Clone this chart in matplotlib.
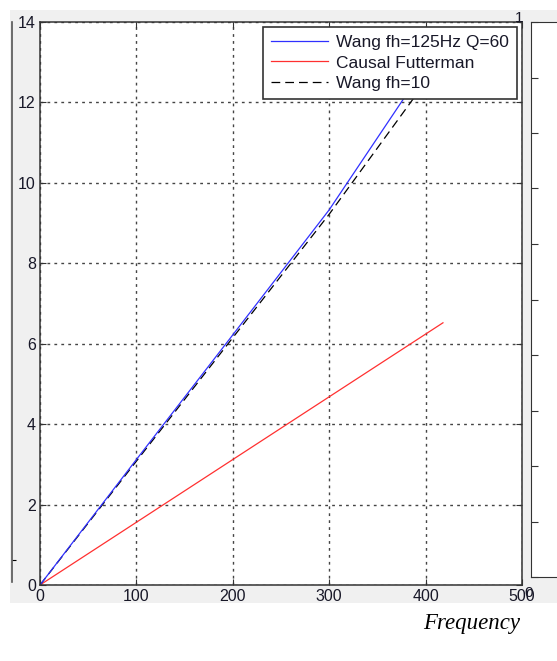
import numpy as np
import matplotlib
matplotlib.use('Agg')
import matplotlib.pyplot as plt
from matplotlib.patches import Rectangle

#data
freq_wang = [0, 100, 200, 300, 390]
att_wang = [0, 3.12, 6.22, 9.33, 12.55]
freq_fh10 = [0, 100, 200, 300, 392]
att_fh10 = [0, 3.08, 6.15, 9.22, 12.25]
freq_futt = [0, 100, 200, 300, 418]
att_futt = [0, 1.56, 3.12, 4.68, 6.52]
xticks = [0, 100, 200, 300, 400, 500]
yticks = [0, 2, 4, 6, 8, 10, 12, 14]
labels = ['Wang fh=125Hz Q=60', 'Causal Futterman', 'Wang fh=10']

plt.rcParams['font.family'] = ['Liberation Sans', 'DejaVu Sans']
W, H = 557, 661
txtcol = '#181828'
fig = plt.figure(figsize=(W/100, H/100), dpi=100, facecolor='white')

#gray matlab figure background
fig.patches.append(Rectangle((10/W, 1-603/H), 1, 593/H, transform=fig.transFigure,
                             facecolor='#f0f0f0', edgecolor='none', zorder=-5))

#partial neighbour panel on the left
axl = fig.add_axes([-0.5, 1-582/H, 0.5+12/W, 560/H])
axl.set_facecolor('none')
for s in ['left', 'top', 'bottom']:
    axl.spines[s].set_visible(False)
axl.spines['right'].set_color('#555555')
axl.spines['right'].set_linewidth(1.2)
axl.set_xticks([])
axl.yaxis.tick_right()
axl.set_ylim(0, 1)
axl.set_yticks([0.04])
axl.tick_params(axis='y', direction='out', length=3, labelright=False)
axl.plot([1, 1], [0.947, 0.947], 'r.', ms=2, clip_on=False)
axl.plot([1, 1], [0.84, 0.84], 'b.', ms=2, clip_on=False)

#partial neighbour panel on the right
axr = fig.add_axes([531/W, 1-577/H, 0.4, 555/H])
axr.set_facecolor('white')
axr.set_ylim(0, 1)
axr.set_yticks(np.arange(0, 1.01, 0.1))
axr.set_yticklabels([])
axr.set_xticks([])
axr.tick_params(axis='y', direction='in', length=5, color='#333333')
for s in axr.spines.values():
    s.set_color('#333333')

#main axes
ax = fig.add_axes([40/W, 1-585/H, 482/W, 563/H])
ax.set_facecolor('white')
ax.plot(freq_futt, att_futt, color='#ff3030', lw=0.9, label=labels[1])
ax.plot(freq_fh10, att_fh10, color='black', lw=0.9, dashes=(7, 4), label=labels[2])
ax.plot(freq_wang, att_wang, color='#3030ff', lw=0.9, label=labels[0])

ax.set_xlim(0, 500)
ax.set_ylim(0, 14)
ax.set_xticks(xticks)
ax.set_yticks(yticks)
ax.tick_params(direction='in', length=4, labelsize=11.5, top=True, right=True,
               color='#333333', labelcolor=txtcol, pad=3)
ax.grid(True, linestyle=(0, (2, 3)), color='#444444', lw=1)
for s in ax.spines.values():
    s.set_color('#333333')
    s.set_linewidth(1.1)

h, l = ax.get_legend_handles_labels()
order = [2, 0, 1]
leg = ax.legend([h[i] for i in order], [l[i] for i in order], loc='upper right',
                prop={'size': 12.5}, fancybox=False, framealpha=1, edgecolor='#333333',
                handlelength=3.3, handletextpad=0.45, borderaxespad=0.3,
                labelspacing=0.3, borderpad=0.45)
leg.get_frame().set_linewidth(1.2)
for t in leg.get_texts():
    t.set_color(txtcol)

#labels of the right panel peeking out
fig.text(519/W, 1-18/H, '1', fontsize=11, color=txtcol, ha='center', va='center')
fig.text(529/W, 1-593/H, '0', fontsize=11, color=txtcol, ha='center', va='center')

fig.text(472/W, 1-623/H, 'Frequency', fontsize=16.5, style='italic',
         family='Liberation Serif', ha='center', va='center')

fig.savefig('out.png', dpi=100)
